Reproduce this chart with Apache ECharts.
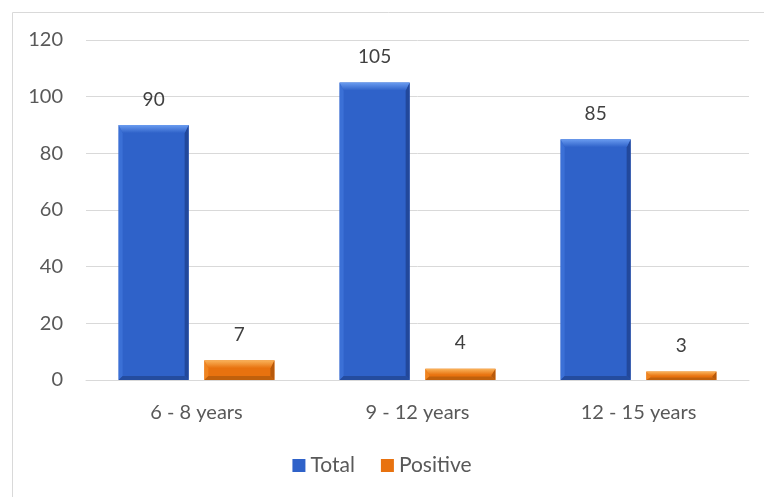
<!DOCTYPE html>
<html>
<head>
<meta charset="utf-8">
<script src="https://cdn.jsdelivr.net/npm/echarts@6/dist/echarts.min.js"></script>
<style>
html,body{margin:0;padding:0;background:#fff;}
#chart{width:764px;height:497px;}
</style>
</head>
<body>
<div id="chart"></div>
<script>
var categories = ['6 - 8 years', '9 - 12 years', '12 - 15 years'];
var totalData = [90, 105, 85];
var positiveData = [7, 4, 3];
var yTicks = [0, 20, 40, 60, 80, 100, 120];

var myChart = echarts.init(document.getElementById('chart'));

var font = 'Lato, "Liberation Sans", sans-serif';

// bevel colours: main, top, left, right, bottom
var blueStyle = {main: '#2f62c9', top: '#6a9cf0', left: '#3b70d6', right: '#22489b', bottom: '#244c9f'};
var orangeStyle = {main: '#e8720f', top: '#fab45c', left: '#ef8420', right: '#b8590a', bottom: '#c0600c'};

function makeRender(st, side) {
    return function (params, api) {
        var xi = api.value(0), v = api.value(1);
        var topPt = api.coord([xi, v]);
        var basePt = api.coord([xi, 0]);
        var band = api.size([1, 0])[0];
        var w = band * 0.317;
        var cx = topPt[0] + side * band * 0.194;
        var x0 = cx - w / 2, x1 = cx + w / 2;
        var y0 = topPt[1], yb = basePt[1];
        var h = yb - y0;
        var bt = Math.min(8, h * 0.55), bs = Math.min(4, w / 4), bb = Math.min(4, h * 0.3);
        return {
            type: 'group',
            children: [
                {type: 'rect', shape: {x: x0, y: y0, width: w, height: h}, style: {fill: st.main}},
                {type: 'polygon', shape: {points: [[x0, y0], [x0 + bs, y0 + bt], [x0 + bs, yb - bb], [x0, yb]]}, style: {fill: st.left}},
                {type: 'polygon', shape: {points: [[x1, y0], [x1, yb], [x1 - bs, yb - bb], [x1 - bs, y0 + bt]]}, style: {fill: st.right}},
                {type: 'polygon', shape: {points: [[x0, yb], [x1, yb], [x1 - bs, yb - bb], [x0 + bs, yb - bb]]}, style: {fill: st.bottom}},
                {type: 'polygon', shape: {points: [[x0, y0], [x1, y0], [x1 - bs, y0 + bt], [x0 + bs, y0 + bt]]},
                    style: {fill: new echarts.graphic.LinearGradient(0, 0, 0, 1, [
                        {offset: 0, color: st.top}, {offset: 1, color: st.main}])}},
                {type: 'text', style: {text: String(v), x: cx, y: y0 - 16, align: 'center', verticalAlign: 'bottom',
                    fill: '#404040', font: '19px ' + font}}
            ]
        };
    };
}

function pairs(arr) {
    return arr.map(function (v, i) { return [i, v]; });
}

var option = {
    animation: false,
    textStyle: {fontFamily: font},
    graphic: [{
        type: 'rect',
        left: 10, top: 10,
        shape: {width: 800, height: 600},
        style: {fill: 'none', stroke: '#d9d9d9', lineWidth: 1}
    }],
    grid: {left: 86, right: 15, top: 40, bottom: 117},
    legend: {
        top: 450,
        left: 'center',
        itemWidth: 13,
        itemHeight: 13,
        itemGap: 26,
        icon: 'rect',
        textStyle: {color: '#595959', fontSize: 21, fontFamily: font},
        data: ['Total', 'Positive']
    },
    xAxis: {
        type: 'category',
        data: categories,
        axisTick: {show: false},
        axisLine: {lineStyle: {color: '#d9d9d9'}},
        axisLabel: {color: '#595959', fontSize: 20, margin: 23, fontFamily: font}
    },
    yAxis: {
        type: 'value',
        min: yTicks[0],
        max: yTicks[yTicks.length - 1],
        interval: 20,
        axisLine: {show: false},
        axisTick: {show: false},
        splitLine: {lineStyle: {color: '#d9d9d9'}},
        axisLabel: {color: '#595959', fontSize: 20, margin: 23, fontFamily: font}
    },
    series: [{
        name: 'Total',
        type: 'custom',
        data: pairs(totalData),
        itemStyle: {color: blueStyle.main},
        renderItem: makeRender(blueStyle, -1)
    }, {
        name: 'Positive',
        type: 'custom',
        data: pairs(positiveData),
        itemStyle: {color: orangeStyle.main},
        renderItem: makeRender(orangeStyle, 1)
    }]
};

myChart.setOption(option);
</script>
</body>
</html>
